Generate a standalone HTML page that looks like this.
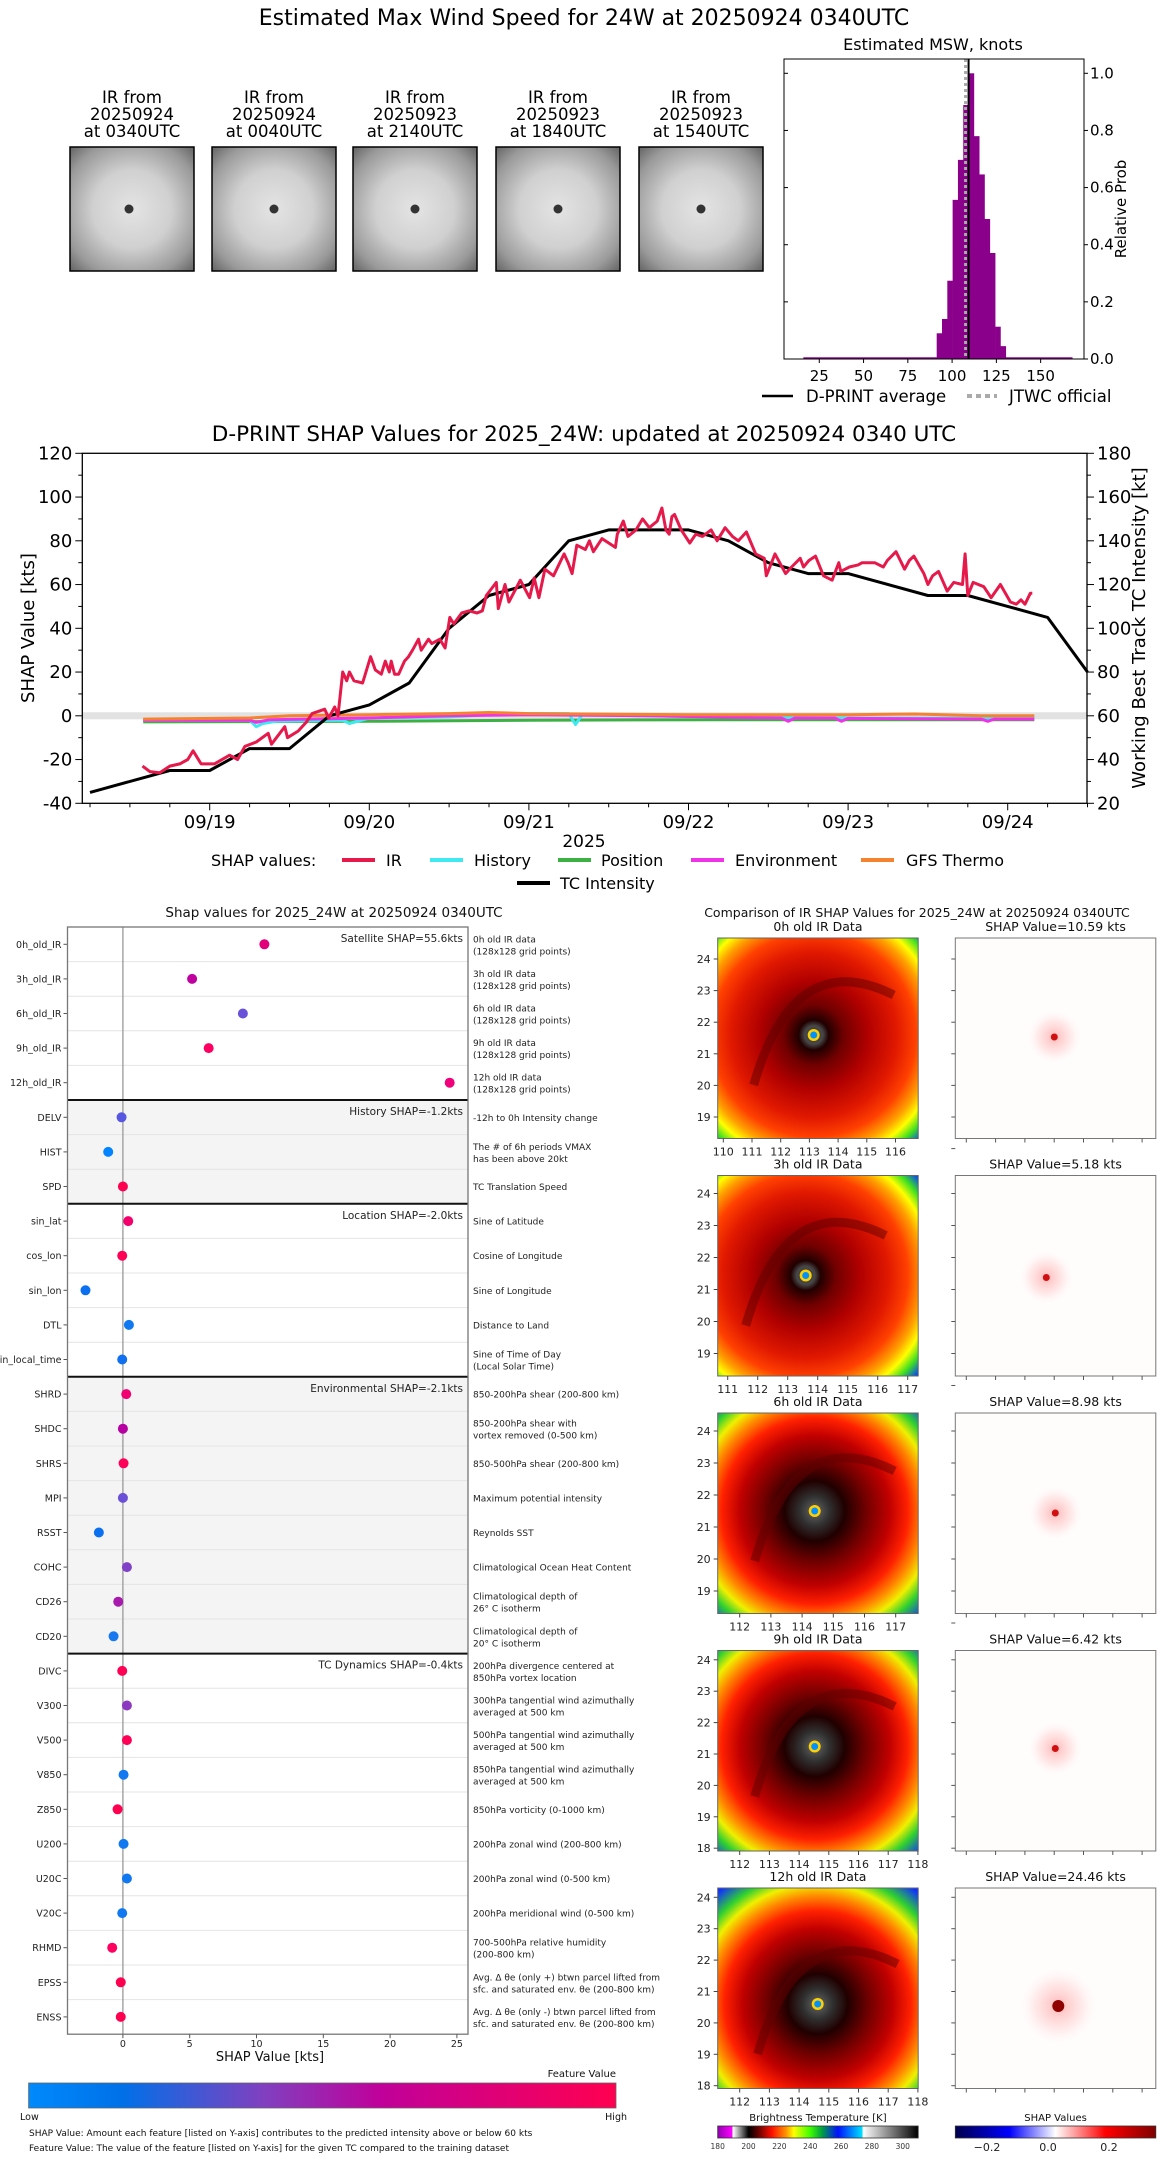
<!DOCTYPE html>
<html><head><meta charset="utf-8">
<style>
html,body{margin:0;padding:0;background:#fff;}
svg{display:block;font-family:"DejaVu Sans","Liberation Sans",sans-serif;}
</style></head>
<body>
<svg id="root" xmlns="http://www.w3.org/2000/svg" width="1168" height="2158" viewBox="0 0 1168 2158">
<rect x="0" y="0" width="1168" height="2158" fill="#fff"/>
<defs>
<radialGradient id="thumbG" cx="0.5" cy="0.5" r="0.7">
<stop offset="0" stop-color="#e4e4e4"/><stop offset="0.45" stop-color="#d0d0d0"/><stop offset="0.8" stop-color="#9a9a9a"/><stop offset="1" stop-color="#666"/>
</radialGradient>
<linearGradient id="featG" x1="0" x2="1" y1="0" y2="0">
<stop offset="0" stop-color="#008afc"/><stop offset="0.16" stop-color="#0070e8"/><stop offset="0.4" stop-color="#8040c0"/><stop offset="0.6" stop-color="#c0009a"/><stop offset="1" stop-color="#ff0050"/>
</linearGradient>
<linearGradient id="btG" x1="0" x2="1" y1="0" y2="0">
<stop offset="0" stop-color="#9000b0"/><stop offset="0.07" stop-color="#ff00ff"/><stop offset="0.077" stop-color="#fff"/><stop offset="0.154" stop-color="#000"/><stop offset="0.2" stop-color="#600000"/><stop offset="0.27" stop-color="#ff1000"/><stop offset="0.34" stop-color="#ff9000"/><stop offset="0.38" stop-color="#ffff00"/><stop offset="0.46" stop-color="#40ff00"/><stop offset="0.52" stop-color="#00a040"/><stop offset="0.6" stop-color="#0010ff"/><stop offset="0.72" stop-color="#00e0ff"/><stop offset="0.725" stop-color="#fff"/><stop offset="1" stop-color="#000"/>
</linearGradient>
<linearGradient id="shapG" x1="0" x2="1" y1="0" y2="0">
<stop offset="0" stop-color="#00004c"/><stop offset="0.27" stop-color="#0000ff"/><stop offset="0.5" stop-color="#ffffff"/><stop offset="0.75" stop-color="#ff0000"/><stop offset="1" stop-color="#800000"/>
</linearGradient>
</defs>

<text x="584" y="25" font-size="22" text-anchor="middle">Estimated Max Wind Speed for 24W at 20250924 0340UTC</text>
<g id="thumbs"></g>
<g id="hist"></g>
<g id="ts"></g>
<g id="bar"></g>
<g id="irp"></g>
</svg>
<script>
// ===== Histogram data =====
const histBinStart = 91.3;
const histBinWidth = 3.0;
const histProbs = [0.09,0.14,0.274,0.557,0.697,0.889,1.0,0.78,0.646,0.49,0.371,0.113,0.045];
const histXTicks = [25,50,75,100,125,150];
const histYTicks = [0,0.2,0.4,0.6,0.8,1.0];
const dprintAvg = 109.3;
const jtwcOfficial = 107.6;
// ===== Thumbnail labels =====
const thumbDates = ["20250924","20250924","20250923","20250923","20250923"];
const thumbTimes = ["0340","0040","2140","1840","1540"];
// ===== Time series data (t = hours since 09/18 00Z) =====
const tcTimes = [6,18,24,30,36,42,48,54,60,66,72,78,84,96,102,108,114,120,132,138,144,150,156];
const tcIntensity = [25,35,35,45,45,60,65,75,100,115,120,140,145,145,140,130,125,125,115,115,110,105,80];
const irTimes = [13.9,15,16.5,18,19.5,20.7,21.5,22.7,24.7,27,28.2,29.3,31,32.8,33.3,35.3,35.7,37.3,38.5,39.4,41.3,41.9,42.8,43.3,44,44.6,45,45.7,47,48.2,48.9,49.8,50.4,51,51.3,51.8,52.4,53.3,53.9,54.5,55.4,55.8,56.9,57.4,58.6,59.4,60.1,60.7,61.9,63,64.2,65,65.6,67.1,67.4,68.4,69,70.7,72.1,72.8,73.5,74.4,75.7,77.3,77.9,78.5,79.2,80.5,81.1,81.7,83,85,85.3,86.2,86.9,88.1,89.1,90.1,91.3,92,92.6,93.1,93.5,93.9,94.9,96.2,97.1,98.1,99.4,100.3,101.5,102.6,103.5,104.7,106.1,107.4,107.7,109,110.6,111.5,112.8,113.3,114.1,115.1,116.3,117.6,118.6,118.9,120.2,121.5,122.1,124,125.3,125.9,127.2,128.5,129.2,129.9,131.4,132,132.7,133.6,134.9,135.9,137.2,137.6,138,138.8,140.4,141.5,142.9,144.4,145.3,146,146.6,147.4,147.7];
const irValues = [-23,-25.5,-26,-23,-22,-20,-16,-22,-22,-18,-20,-14,-12,-8,-13,-5,-10,-7,-3,1,3,-1,4,0,20,16,20,16,15,27,21,19,25,20,25,19,19,25,27,30,35,30,35,33,35,31,45,42,47,48,47,48,55,61,49,60,52,62,54,63,54,67,64,74,70,65,78,76,80,75,81,77,83,89,82,85,90,86,89,95,85,83,91,92,85,79,83,82,85,80,86,82,80,84,74,72,64,74,65,68,72,68,71,73,64,62,70,66,68,69,70,70,68,71,75,67,71,73,65,60,64,66,57,61,60,74,55,61,59,54,60,52,51,53,51,56,56];
const histTimes = [14,20,30,31,32,34,44,45,48,60,66,70,78,79,80,90,100,120,148];
const histValues = [-2,-2,-2,-5,-3.5,-2.5,-2,-3.5,-1,-0.5,0.5,1,1,-4,0.5,0,-0.5,-1,-1.2];
const posTimes = [14,48,72,100,148];
const posValues = [-2.8,-2.5,-2.0,-1.8,-1.8];
const envTimes = [14,30,31,33,48,60,72,90,110,111,112,118,119,120,140,141,142,148];
const envValues = [-2,-2,-3,-1.8,-1,0,0.5,0,-1,-2.5,-1,-1,-2.5,-1.2,-1.5,-2.5,-1.5,-1.5];
const gfsTimes = [14,30,36,48,60,66,72,96,120,130,140,148];
const gfsValues = [-1.5,-1,0,0.5,1,1.5,1,0.5,0.5,0.8,0,0];
const tsLeftTicks = [-40,-20,0,20,40,60,80,100,120];
const tsRightTicks = [20,40,60,80,100,120,140,160,180];
const tsDateLabels = ["09/19","09/20","09/21","09/22","09/23","09/24"];
// ===== Feature SHAP data =====
const featNames = ["0h_old_IR","3h_old_IR","6h_old_IR","9h_old_IR","12h_old_IR","DELV","HIST","SPD","sin_lat","cos_lon","sin_lon","DTL","sin_local_time","SHRD","SHDC","SHRS","MPI","RSST","COHC","CD26","CD20","DIVC","V300","V500","V850","Z850","U200","U20C","V20C","RHMD","EPSS","ENSS"];
const featShap = [10.59,5.18,8.98,6.42,24.46,-0.1,-1.1,0.0,0.4,-0.05,-2.8,0.45,-0.05,0.25,0.0,0.05,0.0,-1.8,0.3,-0.35,-0.7,-0.05,0.3,0.3,0.05,-0.4,0.05,0.3,-0.05,-0.8,-0.16,-0.16];
const featColor = ["#e2007a","#c0009e","#6a52d8","#ff0062","#f0007a","#5656e0","#0084ff","#ff0050","#f4006c","#ff0056","#0a70f0","#1078f0","#1070f0","#f00070","#b800a2","#ff0058","#6a50d8","#0a70f0","#8040c8","#a81aae","#1878f0","#ff0054","#8c38c0","#ff0056","#1078f0","#ff0050","#1078f0","#1078f0","#1078f0","#ff0060","#ff0050","#ff0050"];
const featDesc = [["0h old IR data","(128x128 grid points)"],["3h old IR data","(128x128 grid points)"],["6h old IR data","(128x128 grid points)"],["9h old IR data","(128x128 grid points)"],["12h old IR data","(128x128 grid points)"],["-12h to 0h Intensity change"],["The # of 6h periods VMAX","has been above 20kt"],["TC Translation Speed"],["Sine of Latitude"],["Cosine of Longitude"],["Sine of Longitude"],["Distance to Land"],["Sine of Time of Day","(Local Solar Time)"],["850-200hPa shear (200-800 km)"],["850-200hPa shear with","vortex removed (0-500 km)"],["850-500hPa shear (200-800 km)"],["Maximum potential intensity"],["Reynolds SST"],["Climatological Ocean Heat Content"],["Climatological depth of","26° C isotherm"],["Climatological depth of","20° C isotherm"],["200hPa divergence centered at","850hPa vortex location"],["300hPa tangential wind azimuthally","averaged at 500 km"],["500hPa tangential wind azimuthally","averaged at 500 km"],["850hPa tangential wind azimuthally","averaged at 500 km"],["850hPa vorticity (0-1000 km)"],["200hPa zonal wind (200-800 km)"],["200hPa zonal wind (0-500 km)"],["200hPa meridional wind (0-500 km)"],["700-500hPa relative humidity","(200-800 km)"],["Avg. Δ θe (only +) btwn parcel lifted from","sfc. and saturated env. θe (200-800 km)"],["Avg. Δ θe (only -) btwn parcel lifted from","sfc. and saturated env. θe (200-800 km)"]];
const groupStarts = [0,5,8,13,21];
const groupLabels = ["Satellite SHAP=55.6kts","History SHAP=-1.2kts","Location SHAP=-2.0kts","Environmental SHAP=-2.1kts","TC Dynamics SHAP=-0.4kts"];
const featXTicks = [0,5,10,15,20,25];
// ===== IR panel data =====
const irPanelTitles = ["0h old IR Data","3h old IR Data","6h old IR Data","9h old IR Data","12h old IR Data"];
const irShapValues = [10.59,5.18,8.98,6.42,24.46];
const irLatTicks = [[24,23,22,21,20,19],[24,23,22,21,20,19],[24,23,22,21,20,19],[24,23,22,21,20,19,18],[24,23,22,21,20,19,18]];
const irLonTicks = [[110,111,112,113,114,115,116],[111,112,113,114,115,116,117],[112,113,114,115,116,117],[112,113,114,115,116,117,118],[112,113,114,115,116,117,118]];
const btTicks = [180,200,220,240,260,280,300];
const shapCbTicks = [-0.2,0.0,0.2];

const NS="http://www.w3.org/2000/svg";
function E(tag, attrs, parent){const el=document.createElementNS(NS,tag);for(const k in attrs)el.setAttribute(k,attrs[k]);parent.appendChild(el);return el;}
function T(x,y,s,size,anchor,parent,extra){const el=E('text',Object.assign({x:x,y:y,'font-size':size,'text-anchor':anchor||'start'},extra||{}),parent);el.textContent=s;return el;}

// ===== Thumbnails =====
(function(){
const g=document.getElementById('thumbs');
const xs=[70,212,353,496,639];
for(let i=0;i<5;i++){
  const x=xs[i];
  let el=E('rect',{x:x,y:147,width:124,height:124,fill:'url(#thumbG)',stroke:'#000','stroke-width':1.5},g);
  
  
  el=E('circle',{cx:x+62+(i==0?-3:0),cy:209,r:4.5,fill:'#333'},g);
  
  
  el=T(x+62,103,'IR from',16.5,'middle',g);
  
  
  el=T(x+62,120,thumbDates[i],16.5,'middle',g);
  
  
  el=T(x+62,137,'at '+thumbTimes[i]+'UTC',16.5,'middle',g);
  
  
}
})();

// ===== Histogram =====
(function(){
const g=document.getElementById('hist');
const L=784,R=1084,TP=59,B=359;
const hx=k=>775+k*1.771, hy=p=>B-p*285.7;
let el=E('rect',{x:hx(16),y:hy(0.006),width:hx(168)-hx(16),height:hy(0)-hy(0.006),fill:'#8b008b'},g);


histProbs.forEach((p,i)=>{
  const k0=histBinStart+i*histBinWidth;
  const b=E('rect',{x:hx(k0),y:hy(p),width:hx(k0+histBinWidth)-hx(k0)+0.3,height:hy(0)-hy(p),fill:'#8b008b'},g);
  
  
});
el=E('line',{x1:hx(jtwcOfficial),x2:hx(jtwcOfficial),y1:TP,y2:B,stroke:'#aaa','stroke-width':3,'stroke-dasharray':'3,3'},g);


el=E('line',{x1:hx(dprintAvg),x2:hx(dprintAvg),y1:TP,y2:B,stroke:'#000','stroke-width':2},g);


el=E('rect',{x:L,y:TP,width:R-L,height:B-TP,fill:'none',stroke:'#000','stroke-width':1},g);


histXTicks.forEach(v=>{
  const t=E('line',{x1:hx(v),x2:hx(v),y1:B,y2:B+4,stroke:'#000'},g);
  
  
  const l=T(hx(v),381,String(v),15,'middle',g);
  
  
});
histYTicks.forEach(v=>{
  const t=E('line',{x1:R,x2:R+4,y1:hy(v),y2:hy(v),stroke:'#000'},g);
  
  
  const t2=E('line',{x1:L,x2:L+4,y1:hy(v),y2:hy(v),stroke:'#000'},g);
  
  
  const l=T(R+6,hy(v)+5,v.toFixed(1),15,'start',g);
  
  
});
el=T(933,50,'Estimated MSW, knots',16,'middle',g);


el=T(0,0,'Relative Prob',15,'middle',g,{transform:'translate(1126,209) rotate(-90)'});


el=E('line',{x1:762,x2:793,y1:396,y2:396,stroke:'#000','stroke-width':2.5},g);


el=T(806,402,'D-PRINT average',16.5,'start',g);


el=E('line',{x1:967,x2:997,y1:396,y2:396,stroke:'#aaa','stroke-width':4,'stroke-dasharray':'5,4'},g);


el=T(1009,402,'JTWC official',16.5,'start',g);


})();

// ===== Time series =====
(function(){
const g=document.getElementById('ts');
const L=82.3,R=1087,TP=453.3,B=803.3;
const xT=t=>209.7+(t-24)*6.65;
const yL=v=>TP+(120-v)*2.1875;
let el=E('rect',{x:L,y:yL(1.6),width:R-L,height:yL(-1.6)-yL(1.6),fill:'#e2e2e2'},g);


function line(ts,vs,color,w,name,off){
  const d=ts.map((t,i)=>(i?'L':'M')+xT(t).toFixed(1)+','+yL(vs[i]+(off||0)).toFixed(1)).join(' ');
  const p=E('path',{d:d,fill:'none',stroke:color,'stroke-width':w,'stroke-linejoin':'round'},g);
  
  
}
line(posTimes,posValues,'#3cb043',3,'position-line');
line(histTimes,histValues,'#40e8f0',3,'history-line');
line(envTimes,envValues,'#f032e6',3,'environment-line');
line(gfsTimes,gfsValues,'#f58231',3,'gfs-thermo-line');
line(tcTimes,tcIntensity,'#000',3,'tc-intensity-line',-60);
line(irTimes,irValues,'#e6194b',3,'ir-line');
el=E('rect',{x:L,y:TP,width:R-L,height:B-TP,fill:'none',stroke:'#000','stroke-width':1.3},g);


for(let v=-40;v<=120;v+=10){
  const major=(v%20===0);
  const t=E('line',{x1:L-(major?7:4),x2:L,y1:yL(v),y2:yL(v),stroke:'#000'},g);
  
  
  const t2=E('line',{x1:R,x2:R+(major?7:4),y1:yL(v),y2:yL(v),stroke:'#000'},g);
  
  
}
tsLeftTicks.forEach(v=>{
  const l=T(L-10,yL(v)+6,String(v),18,'end',g);
  
  
});
tsRightTicks.forEach(v=>{
  const l=T(R+10,yL(v-60)+6,String(v),18,'start',g);
  
  
});
for(let t=6;t<=156;t+=6){
  const major=(t%24===0);
  const k=E('line',{x1:xT(t),x2:xT(t),y1:B,y2:B+(major?7:4),stroke:'#000'},g);
  
  
}
tsDateLabels.forEach((s,i)=>{
  const l=T(xT(24+24*i),828,s,18,'middle',g);
  
  
});
el=T(584,847,'2025',17,'middle',g);


el=T(584,441,'D-PRINT SHAP Values for 2025_24W: updated at 20250924 0340 UTC',21.5,'middle',g);


el=T(0,0,'SHAP Value [kts]',18,'middle',g,{transform:'translate(34,628) rotate(-90)'});


el=T(0,0,'Working Best Track TC Intensity [kt]',18,'middle',g,{transform:'translate(1145,628) rotate(-90)'});


el=T(211,866,'SHAP values:',16,'start',g);


const leg=[['IR','#e6194b',342,386],['History','#40e8f0',430,474],['Position','#3cb043',558,601],['Environment','#f032e6',691,735],['GFS Thermo','#f58231',861,906]];
leg.forEach(o=>{
  const s=E('line',{x1:o[2],x2:o[2]+33,y1:860,y2:860,stroke:o[1],'stroke-width':4},g);
  
  
  const l=T(o[3],866,o[0],16,'start',g);
  
  
});
el=E('line',{x1:517,x2:550,y1:883,y2:883,stroke:'#000','stroke-width':4},g);


el=T(560,889,'TC Intensity',16,'start',g);


})();

// ===== Feature SHAP panel =====
(function(){
const g=document.getElementById('bar');
const L=67.5,R=468,TP=927,RH=34.6;
const n=featNames.length;
const B=TP+n*RH;
const fx=v=>122.9+v*13.36;
const ry=i=>TP+RH*(i+0.5);
[[5,8],[13,21]].forEach(r=>{
  const s=E('rect',{x:L,y:TP+r[0]*RH,width:R-L,height:(r[1]-r[0])*RH,fill:'#f4f4f4'},g);
  
  
});
for(let i=1;i<n;i++){
  const s=E('line',{x1:L,x2:R,y1:TP+i*RH,y2:TP+i*RH,stroke:'#e4e4e4','stroke-width':1},g);
  
  
}
let el=E('line',{x1:fx(0),x2:fx(0),y1:TP,y2:B,stroke:'#999','stroke-width':1.3},g);


groupStarts.forEach((s,k)=>{
  if(k>0){
    const ln=E('line',{x1:L,x2:R,y1:TP+s*RH,y2:TP+s*RH,stroke:'#111','stroke-width':2},g);
    
    
  }
  const lb=T(R-5,TP+s*RH+15,groupLabels[k],10.5,'end',g,{fill:'#222'});
  
  
});
featNames.forEach((nm,i)=>{
  const d=E('circle',{cx:fx(featShap[i]),cy:ry(i),r:5,fill:featColor[i]},g);
  
  
  const k=E('line',{x1:L-4,x2:L,y1:ry(i),y2:ry(i),stroke:'#555'},g);
  
  
  const l=T(L-6,ry(i)+3.5,nm,9.5,'end',g,{fill:'#222'});
  
  
  const desc=featDesc[i];
  desc.forEach((line,j)=>{
    const yy=ry(i)+3.5+(desc.length===2?(j===0?-5.5:6.5):0);
    const dl=T(R+5,yy,line,9,'start',g,{fill:'#222'});
    
    
  });
});
el=E('rect',{x:L,y:TP,width:R-L,height:B-TP,fill:'none',stroke:'#777','stroke-width':1.3},g);


featXTicks.forEach(v=>{
  const k=E('line',{x1:fx(v),x2:fx(v),y1:B,y2:B+4,stroke:'#555'},g);
  
  
  const l=T(fx(v),B+13,String(v),9.5,'middle',g,{fill:'#222'});
  
  
});
el=T(270,2061,'SHAP Value [kts]',13,'middle',g,{fill:'#111'});


el=T(334,917,'Shap values for 2025_24W at 20250924 0340UTC',13.5,'middle',g,{fill:'#111'});


el=E('rect',{x:28.6,y:2083,width:587.4,height:25,fill:'url(#featG)',stroke:'#666','stroke-width':0.8},g);


el=T(616,2077,'Feature Value',10,'end',g,{fill:'#111'});


el=T(20,2120,'Low',9.5,'start',g,{fill:'#111'});


el=T(627,2120,'High',9.5,'end',g,{fill:'#111'});


el=T(29,2136,'SHAP Value: Amount each feature [listed on Y-axis] contributes to the predicted intensity above or below 60 kts',9,'start',g,{fill:'#111'});


el=T(29,2151,'Feature Value: The value of the feature [listed on Y-axis] for the given TC compared to the training dataset',9,'start',g,{fill:'#111'});


})();

// ===== IR comparison panels =====
(function(){
const g=document.getElementById('irp');
const defs=document.querySelector('defs');
const IX=717.7,SX=955.3,S=200.5,P0=938,PITCH=237.5;
const eyes=[[96,97],[88,100],[97,98],[97,96],[100,116]];
const latTop=[21,18,18,9.3,9.3], latPx=[31.6,32,32,31.4,31.4];
const lonLeft=[5.6,10,22,22,22], lonPx=[28.7,30,31.2,29.7,29.7];
let el=T(917,917,'Comparison of IR SHAP Values for 2025_24W at 20250924 0340UTC',12.5,'middle',g,{fill:'#111'});


for(let i=0;i<5;i++){
  const y0=P0+i*PITCH;
  const ex=eyes[i][0], ey=eyes[i][1];
  const rg=E('radialGradient',{id:'irg'+i,cx:IX+ex,cy:y0+ey,r:150,gradientUnits:'userSpaceOnUse'},defs);
  const stops=i<2?[[0,'#333'],[0.06,'#484848'],[0.1,'#200000'],[0.2,'#700000'],[0.36,'#b00000'],[0.55,'#e01800'],[0.68,'#ff4000'],[0.78,'#ffa000'],[0.85,'#ffff00'],[0.92,'#40e020'],[1,'#0040ff']]
                   :[[0,'#666'],[0.1,'#303030'],[0.2,'#200000'],[0.34,'#700000'],[0.5,'#c00000'],[0.62,'#ff2000'],[0.72,'#ff8a00'],[0.8,'#f0f000'],[0.88,'#30d030'],[1,'#1030ff']];
  stops.forEach(s=>E('stop',{offset:s[0],'stop-color':s[1]},rg));
  const cp=E('clipPath',{id:'irc'+i},defs);
  E('rect',{x:IX,y:y0,width:S,height:S},cp);
  const ig=E('g',{'clip-path':'url(#irc'+i+')'},g);
  
  
  let r=E('rect',{x:IX,y:y0,width:S,height:S,fill:'url(#irg'+i+')'},ig);
  
  
  r=E('path',{d:`M${IX+ex-60},${y0+ey+50} Q${IX+ex-20},${y0+ey-90} ${IX+ex+80},${y0+ey-40}`,fill:'none',stroke:'#600000','stroke-width':9,opacity:0.5},ig);
  
  
  r=E('circle',{cx:IX+ex,cy:y0+ey,r:6,fill:'#ffd000'},ig);
  
  
  r=E('circle',{cx:IX+ex,cy:y0+ey,r:3.5,fill:'#0090ff'},ig);
  
  
  el=E('rect',{x:IX,y:y0,width:S,height:S,fill:'none',stroke:'#666','stroke-width':1},g);
  
  
  el=T(IX+S/2,y0-7,irPanelTitles[i],12.5,'middle',g,{fill:'#111'});
  
  
  irLatTicks[i].forEach((v,j)=>{
    const yy=y0+latTop[i]+j*latPx[i];
    const k=E('line',{x1:IX-4,x2:IX,y1:yy,y2:yy,stroke:'#444'},g);
    
    
    const l=T(IX-7,yy+4,String(v),11,'end',g,{fill:'#222'});
    
    
  });
  irLonTicks[i].forEach((v,j)=>{
    const xx=IX+lonLeft[i]+j*lonPx[i];
    const k=E('line',{x1:xx,x2:xx,y1:y0+S,y2:y0+S+4,stroke:'#444'},g);
    
    
    const l=T(xx,y0+S+17,String(v),11,'middle',g,{fill:'#222'});
    
    
  });
  const sg=E('radialGradient',{id:'shg'+i,cx:SX+ex+3,cy:y0+ey+2,r:i===4?40:28,gradientUnits:'userSpaceOnUse'},defs);
  E('stop',{offset:0,'stop-color':'#ffb0b0','stop-opacity':0.9},sg);
  E('stop',{offset:0.6,'stop-color':'#ffdede','stop-opacity':0.6},sg);
  E('stop',{offset:1,'stop-color':'#fff','stop-opacity':0},sg);
  el=E('rect',{x:SX,y:y0,width:S,height:S,fill:'#fffcfc',stroke:'#777','stroke-width':1},g);
  
  
  el=E('circle',{cx:SX+ex+3,cy:y0+ey+2,r:i===4?40:28,fill:'url(#shg'+i+')'},g);
  
  
  el=E('circle',{cx:SX+ex+3,cy:y0+ey+2,r:i===4?6:3.5,fill:i===4?'#900000':'#d01010'},g);
  
  
  for(let j=0;j<7;j++){
    const k=E('line',{x1:SX+11+j*29.3,x2:SX+11+j*29.3,y1:y0+S,y2:y0+S+4,stroke:'#555'},g);
    
    
    const k2=E('line',{x1:SX-4,x2:SX,y1:y0+latTop[i]+j*latPx[i],y2:y0+latTop[i]+j*latPx[i],stroke:'#555'},g);
    
    
  }
  el=T(SX+S/2,y0-7,'SHAP Value='+irShapValues[i].toFixed(2)+' kts',12.5,'middle',g,{fill:'#111'});
  
  
}
el=E('rect',{x:IX,y:2126,width:S,height:12,fill:'url(#btG)',stroke:'#333','stroke-width':0.8},g);


el=T(IX+S/2,2121,'Brightness Temperature [K]',10,'middle',g,{fill:'#111'});


const bx=v=>IX+(v-180)/130*S;
btTicks.forEach(v=>{
  const l=T(bx(v),2149,String(v),7.5,'middle',g,{fill:'#333'});
  
  
});
el=E('rect',{x:SX,y:2126,width:S,height:12,fill:'url(#shapG)',stroke:'#333','stroke-width':0.8},g);


el=T(SX+S/2,2121,'SHAP Values',10,'middle',g,{fill:'#111'});


const sx=v=>1048+v*305;
shapCbTicks.forEach(v=>{
  const l=T(sx(v),2151,(v<0?'\u2212':'')+Math.abs(v).toFixed(1),11,'middle',g,{fill:'#222'});
  
  
});
})();
</script>
</body></html>
